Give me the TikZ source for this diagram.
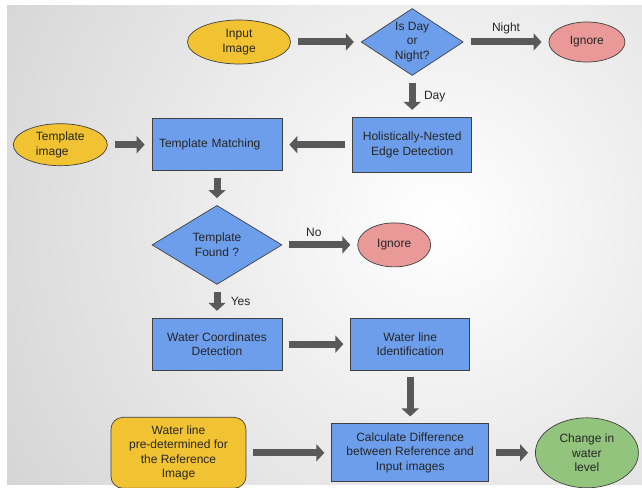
\documentclass[tikz,border=0pt]{standalone}
\usepackage{fontspec}
\setmainfont{Liberation Sans}
\usetikzlibrary{positioning}
\usetikzlibrary{shapes.geometric}
\usetikzlibrary{arrows.meta}
\definecolor{ovalyellow}{HTML}{F1C232}
\definecolor{boxblue}{HTML}{6D9EEB}
\definecolor{ovalred}{HTML}{EA9999}
\definecolor{ovalgreen}{HTML}{93C47D}
\definecolor{arrowgray}{HTML}{595959}
\definecolor{edgegray}{HTML}{404040}
\definecolor{bggray}{HTML}{ACACAC}
\tikzset{%
  base/.style = {draw=edgegray, line width=0.7pt, text=black!85,
        align=center, font=\fontsize{12}{14.5}\selectfont},
  oval/.style = {base, ellipse, inner sep=0pt},
  box/.style = {base, rectangle, fill=boxblue, inner sep=0pt},
  decide/.style = {base, diamond, fill=boxblue, aspect=1.5,
        inner sep=-3pt},
  flow/.style = {-{Triangle[length=8pt,width=17pt]}, line width=7pt,
        draw=arrowgray, shorten <=7pt, shorten >=7pt},
  lbl/.style = {text=black!85, font=\fontsize{12}{14.5}\selectfont}
}

\begin{document}
\begin{tikzpicture}[node distance=40pt and 70pt]
   \useasboundingbox (0,0) rectangle (642pt,-487pt);
   \begin{scope}
      \clip (7pt,-6pt) rectangle (642pt,-484pt);
      \shade[inner color=white, outer color=bggray] (440pt,-220pt) circle (1000pt);
   \end{scope}

   \node[oval, fill=ovalyellow, minimum width=103pt, minimum height=44pt] (input) at (239pt,-42pt) {Input\\Image};
   \node[decide, minimum width=102pt, minimum height=67pt] (daynight) [right=70pt of input] {Is Day\\or\\Night?};
   \node[oval, fill=ovalred, minimum width=76pt, minimum height=40pt] (ignore1) [right=85pt of daynight] {Ignore};
   \node[box, minimum width=119pt, minimum height=55pt] (hed) [below=41pt of daynight] {Holistically-Nested\\Edge Detection};
   \node[box, minimum width=130pt, minimum height=52pt, text width=116pt, align=left] (match) [left=70pt of hed] {Template Matching};
   \node[oval, fill=ovalyellow, minimum width=94pt, minimum height=42pt, align=left] (template) [left=44pt of match] {Template\\image};

   \node[decide, minimum width=130pt, minimum height=79pt] (found) [below=34pt of match] {Template\\Found ?};
   \node[oval, fill=ovalred, minimum width=73pt, minimum height=44pt] (ignore2) [right=75pt of found] {Ignore};
   \node[box, minimum width=130pt, minimum height=52pt] (coords) [below=33pt of found] {Water Coordinates\\Detection};
   \node[box, minimum width=119pt, minimum height=52pt] (waterline) [right=68pt of coords] {Water line\\Identification};

   \node[box, minimum width=157pt, minimum height=58pt] (diff) [below=53pt of waterline] {Calculate Difference\\between Reference and\\Input images};
   \node[base, rounded corners=12pt, fill=ovalyellow, inner sep=0pt, minimum width=135pt, minimum height=71pt] (refline) [left=85pt of diff] {Water line\\pre-determined for\\the Reference\\Image};
   \node[oval, fill=ovalgreen, minimum width=103pt, minimum height=70pt] (change) [right=46pt of diff] {Change in\\water\\level};

   \draw[flow] (input) -- (daynight);
   \draw[flow] (daynight) -- node[lbl, above=1pt] {Night} (ignore1);
   \draw[flow] (daynight) -- node[lbl, right=5pt] {Day} (hed);
   \draw[flow] (hed) -- (match);
   \draw[flow] (template) -- (match);
   \draw[flow] (match) -- (found);
   \draw[flow] (found) -- node[lbl, above=1pt, xshift=-6pt] {No} (ignore2);
   \draw[flow] (found) -- node[lbl, right=7pt] {Yes} (coords);
   \draw[flow] (coords) -- (waterline);
   \draw[flow] (waterline) -- (diff);
   \draw[flow] (refline) -- (diff);
   \draw[flow] (diff) -- (change);
\end{tikzpicture}
\end{document}
